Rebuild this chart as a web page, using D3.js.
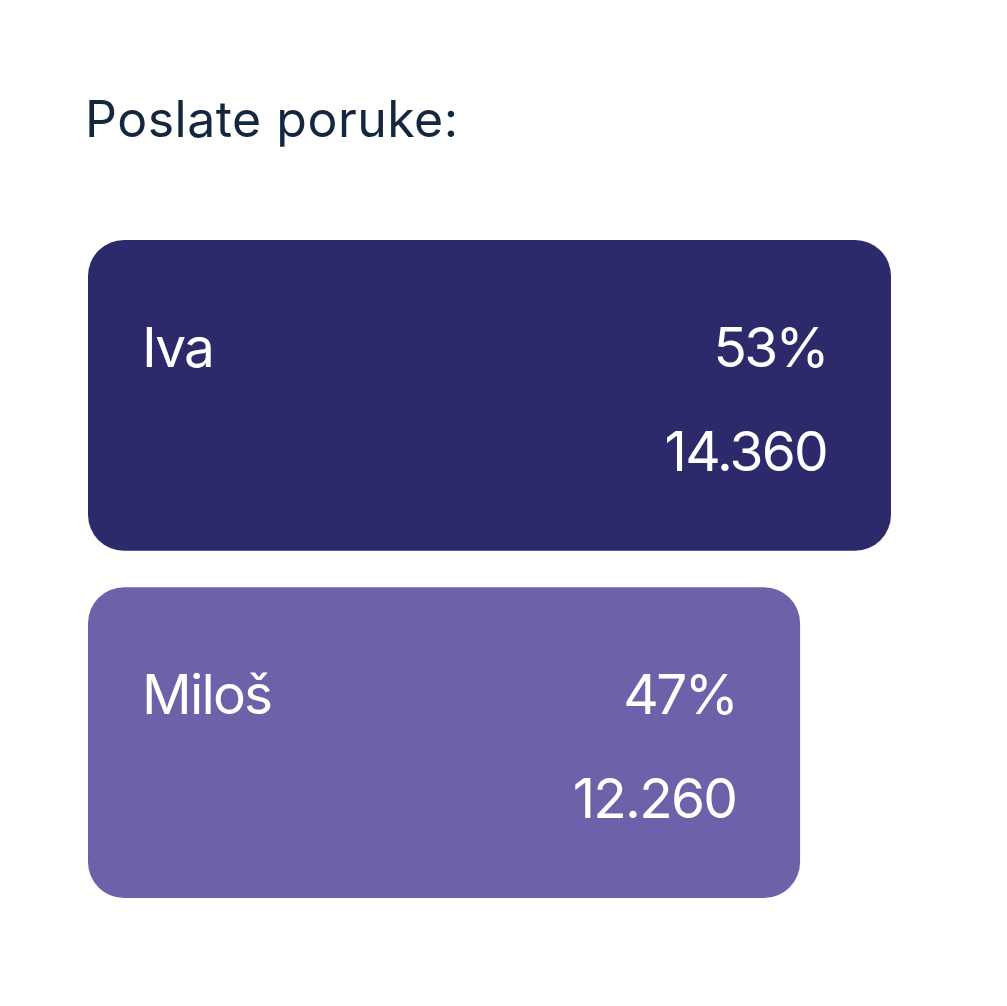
<!DOCTYPE html>
<html><head><meta charset="utf-8">
<script src="https://cdn.jsdelivr.net/npm/d3@7"></script>
<style>html,body{margin:0;padding:0;background:#fff;}svg{display:block;}</style>
</head><body>
<script>
const title = "Poslate poruke:";
const names = ["Iva", "Miloš"];
const percents = [53, 47];
const counts = ["14.360", "12.260"];
const colors = ["#2c2a6b", "#6d62aa"];

const W = 1007, H = 1006;
const svg = d3.select("body").append("svg").attr("width", W).attr("height", H);
const font = "Inter, 'Noto Sans', sans-serif";

svg.append("text").attr("x", 85).attr("y", 137)
  .attr("font-family", font).attr("font-size", 50).attr("letter-spacing", 0.5).attr("fill", "#14273f")
  .text(title);

const x = d3.scaleLinear().domain([0, d3.max(percents)]).range([88, 891]);
const y = d3.scaleBand().domain(names).range([240, 898]).paddingInner(0.105);

const g = svg.selectAll("g.bar").data(names).join("g").attr("class", "bar");
g.append("rect")
  .attr("x", x(0)).attr("y", d => y(d))
  .attr("width", (d, i) => x(percents[i]) - x(0))
  .attr("height", y.bandwidth())
  .attr("rx", 36).attr("ry", 36)
  .attr("fill", (d, i) => colors[i]);
const ls = -1.8;
g.append("text").attr("x", x(0) + 54).attr("y", d => y(d) + 127)
  .attr("font-family", font).attr("font-size", 55).attr("letter-spacing", ls).attr("fill", "#fff")
  .text(d => d);
g.append("text").attr("x", (d, i) => x(percents[i]) - 64).attr("y", d => y(d) + 127)
  .attr("text-anchor", "end")
  .attr("font-family", font).attr("font-size", 55).attr("letter-spacing", -2.6).attr("fill", "#fff")
  .text((d, i) => percents[i] + "%");
g.append("text").attr("x", (d, i) => x(percents[i]) - 64).attr("y", d => y(d) + 231)
  .attr("text-anchor", "end")
  .attr("font-family", font).attr("font-size", 55).attr("letter-spacing", ls).attr("fill", "#fff")
  .text((d, i) => counts[i]);
</script>
</body></html>
